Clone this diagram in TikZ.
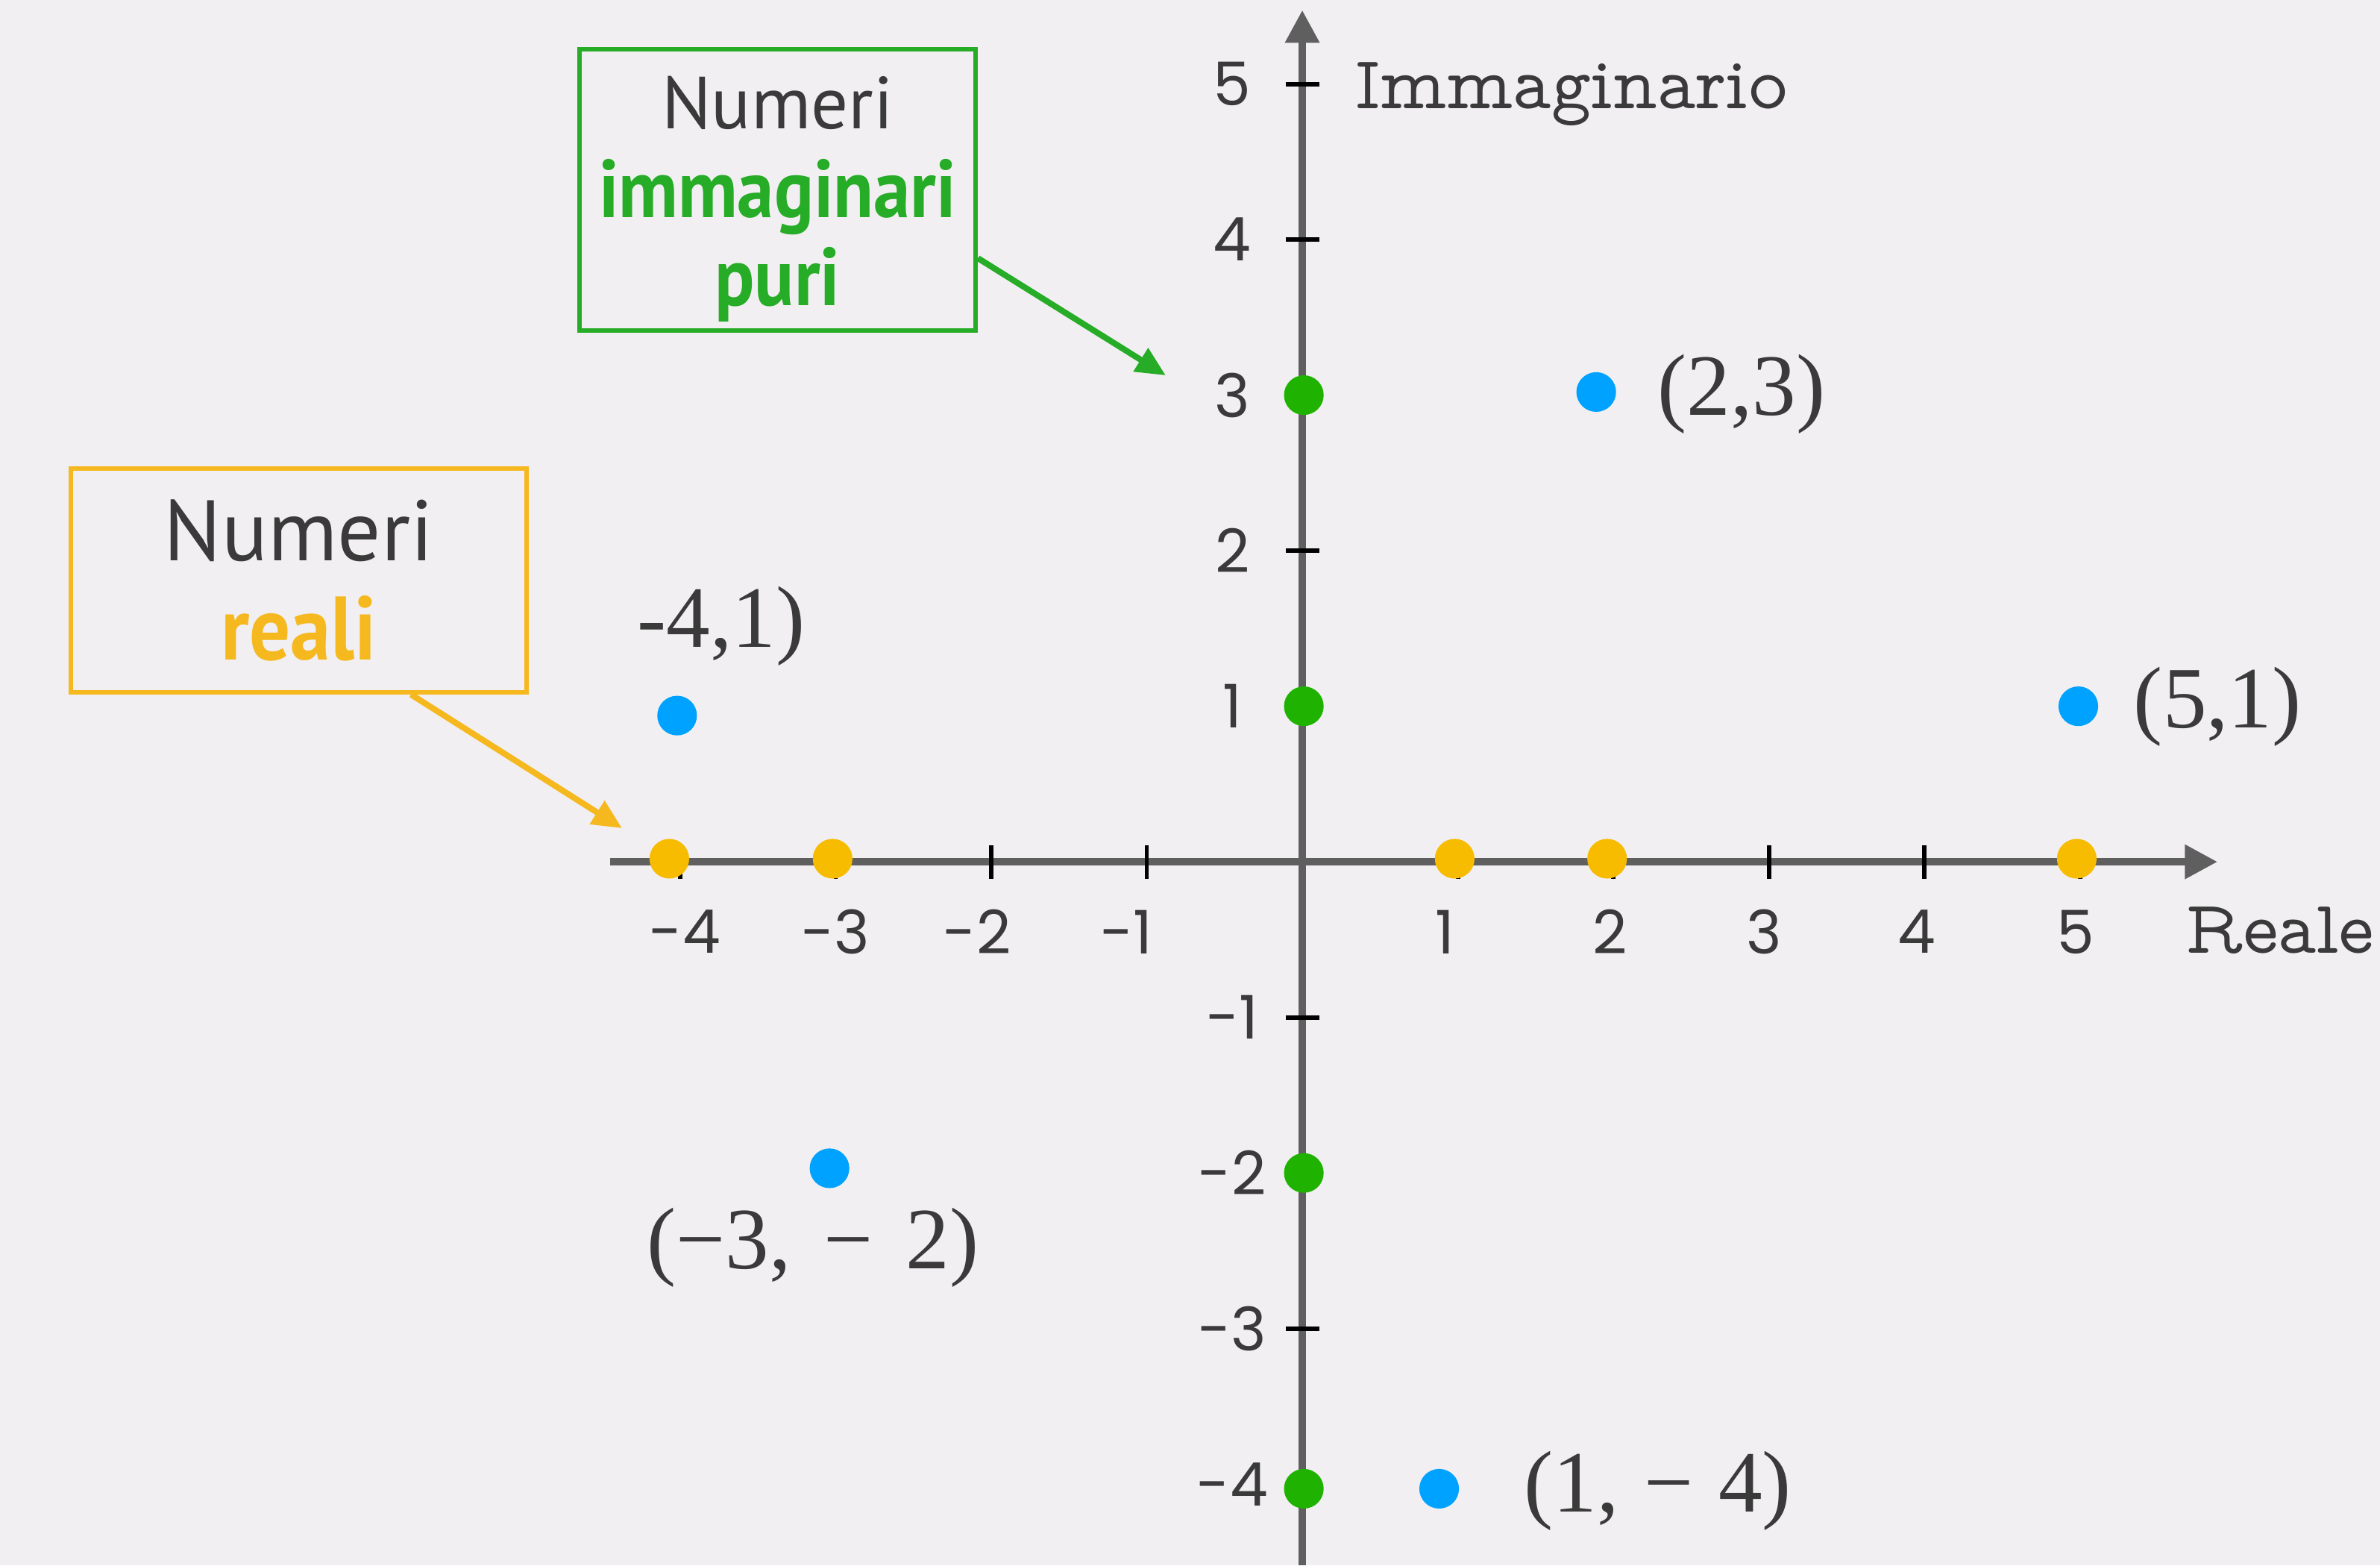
\documentclass[tikz,border=0pt]{standalone}
\usepackage{fontspec}
\usepackage{xcolor}
\usepackage{tikz}
\usetikzlibrary{positioning,arrows.meta,calc}
\setmainfont{Liberation Serif}
\newfontfamily\ticksfont{Poppins}
\newfontfamily\axisfont{lmmonoprop10-regular.otf}
\newfontfamily\boxfont{PT Sans}
\newfontfamily\boxbold[FakeStretch=0.9]{PT Sans}
\definecolor{bgpaper}{RGB}{241,239,242}
\definecolor{axisgray}{RGB}{95,95,95}
\definecolor{ink}{RGB}{58,58,58}
\definecolor{ptgreen}{RGB}{31,178,0}
\definecolor{ptyellow}{RGB}{247,187,0}
\definecolor{ptblue}{RGB}{0,162,255}
\definecolor{boxgreen}{RGB}{38,172,38}
\definecolor{boxyellow}{RGB}{245,184,30}
\tikzset{
  axis/.style={line width=1.4pt,axisgray,-{Triangle[length=2.1mm,width=2.1mm]}},
  tck/.style={line width=0.8pt,black},
  pt/.style={circle,inner sep=0pt,minimum size=2.55mm},
  rpt/.style={pt,fill=ptyellow},
  ipt/.style={pt,fill=ptgreen},
  cpt/.style={pt,fill=ptblue},
  ticklbl/.style={font=\ticksfont\fontsize{11}{13}\selectfont,text=ink,inner sep=0pt},
  coordlbl/.style={font=\fontsize{16}{19}\selectfont,text=ink,anchor=base west,inner sep=0pt},
  axlbl/.style={font=\axisfont\fontsize{13.8}{16}\selectfont,text=ink,anchor=base west,inner sep=0pt},
  callout/.style={draw,line width=0.85pt,inner sep=0pt},
  callouttxt/.style={align=center,inner sep=0pt,text=ink},
  car/.style={-{Triangle[length=1.9mm,width=1.7mm]},line width=1.1pt},
}

\begin{document}
\begin{tikzpicture}
  \fill[bgpaper] (-8.374,-4.523) rectangle (6.930,5.540);
  \useasboundingbox (-8.374,-4.523) rectangle (6.930,5.540);
  % axes
  \coordinate (xs) at (-4.45,0);  \coordinate (xe) at (5.885,0);
  \coordinate (ys) at (0,-4.523); \coordinate (ye) at (0,5.475);
  \draw[axis] (xs) -- (xe);
  \draw[axis] (ys) -- (ye);
  \foreach \t in {-4,-3,-2,-1,1,2,3,4,5} {
    \draw[tck] (\t,-0.108) -- (\t,0.108);
    \draw[tck] (-0.108,\t) -- (0.108,\t);
  }
  \foreach \v/\px in {-4/-3.97,-3/-3.00,-2/-2.09,-1/-1.13,1/0.92,2/1.98,3/2.97,4/3.95,5/4.97}
    \node[ticklbl] (xl\v) at (\px,-0.45) {\v};
  \foreach \v in {5,4,3,2,1,-1,-2,-3,-4}
    \node[ticklbl] (yl\v) at (-0.45,\v) {\v};
  \node[axlbl] (imlbl) at (0.331,4.84) {Immaginario};
  \node[axlbl] (relbl) at (5.674,-0.585) {Reale};
  % points on the axes
  \foreach \x [count=\i] in {-4.07,-3.02,0.98,1.96,4.98}
    \node[rpt] (re\i) at (\x,0.02) {};
  \foreach \y [count=\i] in {3,1,-2,-4.03}
    \node[ipt] (im\i) at (0.01,\y) {};
  % complex points
  \node[cpt] (z1) at (1.89,3.02) {};
  \node[coordlbl] (z1l) at (2.28,2.87) {(2,3)};
  \node[cpt] (z2) at (4.99,1.0) {};
  \node[coordlbl] (z2l) at (5.34,0.86) {(5,1)};
  \node[cpt] (z3) at (-4.02,0.94) {};
  \node[coordlbl] (z3l) at (-4.283,1.381) {-4,1)};
  \node[cpt] (z4) at (-3.04,-1.97) {};
  \node[coordlbl] (z4l) at (-4.22,-2.614) {(−3,\hspace{2pt} −\hspace{2pt} 2)};
  \node[cpt] (z5) at (0.88,-4.03) {};
  \node[coordlbl] (z5l) at (1.42,-4.18) {(1,\hspace{0.6pt} −\hspace{0.6pt} 4)};
  % callouts
  \node[callout,draw=boxgreen,minimum width=2.547cm,minimum height=1.808cm] (gbox) at (-3.374,4.319) {};
  \node[callouttxt,font=\boxfont\fontsize{13.5}{16.2}\selectfont] (gtxt) at ($(gbox.center)+(0,-0.06)$)
    {Numeri\\{\boxbold\bfseries\fontsize{15}{16.2}\selectfont\color{boxgreen}immaginari}\\
     {\boxbold\bfseries\fontsize{15}{16.2}\selectfont\color{boxgreen}puri}};
  \node[callout,draw=boxyellow,minimum width=2.931cm,minimum height=1.437cm] (ybox) at (-6.453,1.809) {};
  \node[callouttxt,font=\boxfont\fontsize{15.7}{18.1}\selectfont] (ytxt) at (ybox.center)
    {Numeri\\{\boxbold\bfseries\fontsize{16.5}{18.1}\selectfont\color{boxyellow}reali}};
  \coordinate (gtip) at (-0.878,3.127);
  \coordinate (ytip) at (-4.374,0.216);
  \draw[car,boxgreen] ($(gbox.south east)+(0,0.48)$) -- (gtip);
  \draw[car,boxyellow] ($(ybox.south)+(0.722,0)$) -- (ytip);
\end{tikzpicture}
\end{document}
